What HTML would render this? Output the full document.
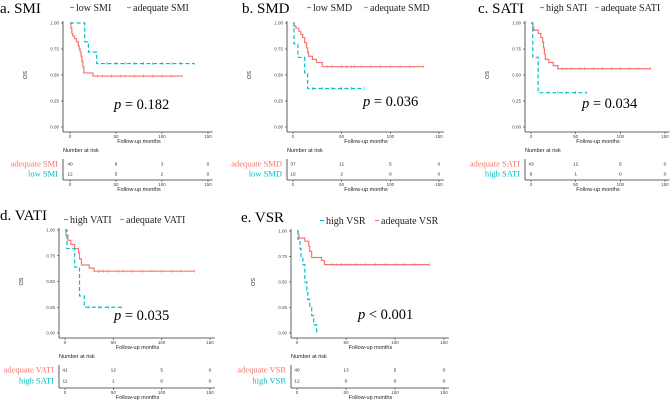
<!DOCTYPE html>
<html><head><meta charset="utf-8">
<style>
body{margin:0;background:#fff;}
svg{display:block;font-family:"Liberation Sans",sans-serif;}
.ser{font-family:"Liberation Serif",serif;}
</style></head>
<body>
<svg id="fig" width="672" height="400" viewBox="0 0 672 400"></svg>
<script>
// ---------- data ----------
const xTicks = [0, 50, 100, 150];
const yTicks = [0, 0.25, 0.5, 0.75, 1.0];
const yTickLabels = ["0.00", "0.25", "0.50", "0.75", "1.00"];

const titles = ["a. SMI", "b. SMD", "c. SATI", "d. VATI", "e. VSR"];
const cyanNames = ["low SMI", "low SMD", "high SATI", "high VATI", "high VSR"];
const redNames = ["adequate SMI", "adequate SMD", "adequate SATI", "adequate VATI", "adequate VSR"];
const riskCyanNames = ["low SMI", "low SMD", "high SATI", "high SATI", "high VSR"];
const pTexts = ["= 0.182", "= 0.036", "= 0.034", "= 0.035", "< 0.001"];

const redTimes = [
  [0, 1, 2, 3, 5, 7, 9, 10, 11, 12, 13, 14, 15, 25],
  [0, 1, 3, 6, 8, 10, 12, 14, 15, 16, 20, 24, 30],
  [0, 2, 3, 8, 11, 13, 14, 15, 16, 20, 25, 30],
  [0, 1, 3, 6, 10, 14, 15, 17, 25, 30],
  [0, 1, 2, 8, 12, 13, 15, 25, 28]
];
const redSurv = [
  [1, 0.95, 0.9, 0.875, 0.85, 0.82, 0.78, 0.75, 0.72, 0.68, 0.63, 0.58, 0.52, 0.49],
  [1, 0.97, 0.95, 0.92, 0.89, 0.86, 0.81, 0.76, 0.72, 0.68, 0.65, 0.62, 0.58],
  [1, 0.96, 0.93, 0.9, 0.86, 0.82, 0.76, 0.7, 0.65, 0.62, 0.59, 0.56],
  [1, 0.95, 0.9, 0.86, 0.82, 0.78, 0.72, 0.66, 0.63, 0.6],
  [1, 0.97, 0.93, 0.9, 0.85, 0.8, 0.74, 0.71, 0.67]
];
const redEnd = [122, 134, 134, 134, 135];
const cyanTimes = [
  [0, 16, 20, 29],
  [0, 1, 5, 12, 15],
  [0, 2, 8],
  [0, 2, 10, 15, 20],
  [0, 1, 3, 4, 6, 8, 10, 11, 13, 15, 17, 20]
];
const cyanSurv = [
  [1, 0.82, 0.72, 0.61],
  [1, 0.8, 0.67, 0.52, 0.37],
  [1, 0.67, 0.33],
  [1, 0.82, 0.64, 0.36, 0.25],
  [1, 0.92, 0.83, 0.75, 0.67, 0.5, 0.42, 0.33, 0.25, 0.17, 0.08, 0.0]
];
const cyanEnd = [135, 73, 62, 58, 20];
const redCensor = [
  [30, 35, 45, 55, 60, 70, 80, 90, 100, 110, 122],
  [35, 40, 50, 55, 60, 63, 70, 80, 90, 100, 110, 120, 134],
  [35, 40, 45, 55, 60, 70, 80, 90, 100, 110, 120, 134],
  [35, 40, 45, 55, 60, 70, 80, 90, 100, 110, 120, 134],
  [35, 40, 45, 50, 55, 60, 70, 80, 90, 100, 110, 120, 135]
];
const cyanCensor = [
  [40, 50, 60, 70, 80, 90, 100, 110, 120, 135],
  [20, 30, 40, 50, 60, 73],
  [20, 30, 40, 50, 62],
  [25, 35, 45, 58],
  []
];
const riskRed = [[40, 8, 3, 0], [37, 11, 5, 0], [43, 12, 5, 0], [41, 12, 5, 0], [40, 13, 5, 0]];
const riskCyan = [[12, 5, 2, 0], [15, 2, 0, 0], [9, 1, 0, 0], [11, 1, 0, 0], [12, 0, 0, 0]];

// ---------- layout (pixels) ----------
const layout = [
  {ax:63, x0:70, x150:208, y1:23, y0:127, ab:132, rr:[164,174], rb:180, tx:0, ty:13, lg:[70,127], ly:11, px:114, py:109},
  {ax:287, x0:293, x150:439, y1:23, y0:127, ab:132, rr:[164,174], rb:180, tx:242, ty:13, lg:[307,364], ly:11, px:363, py:106},
  {ax:525, x0:531, x150:665, y1:23, y0:127, ab:132, rr:[164,174], rb:180, tx:478, ty:13, lg:[540,595], ly:11, px:582, py:108},
  {ax:59, x0:65, x150:210, y1:230, y0:333, ab:338, rr:[370,381], rb:388, tx:0, ty:220, lg:[64,120], ly:223, px:114, py:320},
  {ax:291, x0:297, x150:444, y1:231, y0:333, ab:338, rr:[370,381], rb:388, tx:241, ty:222, lg:[320,375], ly:224, px:358, py:319}
];
const RED = "#f8766d", CYAN = "#00bfc4";
const NS = "http://www.w3.org/2000/svg";
const svg = document.getElementById("fig");
function mk(tag, attrs, parent, text) {
  const e = document.createElementNS(NS, tag);
  for (const k in attrs) e.setAttribute(k, attrs[k]);
  if (text !== undefined) e.textContent = text;
  (parent || svg).appendChild(e);
  return e;
}
function stepPath(ts, ss, end, X, Y) {
  let d = "M" + X(ts[0]) + "," + Y(ss[0]);
  for (let i = 1; i < ts.length; i++) {
    d += "H" + X(ts[i]) + "V" + Y(ss[i]);
  }
  d += "H" + X(end);
  return d;
}
function survAt(ts, ss, t) {
  let s = ss[0];
  for (let i = 0; i < ts.length; i++) if (ts[i] <= t) s = ss[i];
  return s;
}

for (let p = 0; p < 5; p++) {
  const L = layout[p];
  const g = mk("g", {}, svg);
  
  
  const X = t => L.x0 + t * (L.x150 - L.x0) / 150;
  const Y = s => L.y0 - s * (L.y0 - L.y1);

  const tt = mk("text", {x:L.tx, y:L.ty, "font-size":15, class:"ser", fill:"#000"}, g, titles[p]);
  
  

  // legend
  const lg = mk("g", {}, g);
  
  
  mk("line", {x1:L.lg[0], x2:L.lg[0]+4, y1:L.ly-3.5, y2:L.ly-3.5, stroke:CYAN, "stroke-width":1.2}, lg);
  mk("text", {x:L.lg[0]+6, y:L.ly, "font-size":10, class:"ser", fill:"#222"}, lg, cyanNames[p]);
  mk("line", {x1:L.lg[1], x2:L.lg[1]+4, y1:L.ly-3.5, y2:L.ly-3.5, stroke:RED, "stroke-width":1.2}, lg);
  mk("text", {x:L.lg[1]+6, y:L.ly, "font-size":10, class:"ser", fill:"#222"}, lg, redNames[p]);

  // axes
  const ax = mk("g", {}, g);
  
  
  mk("line", {x1:L.ax, x2:L.ax, y1:L.y1-2, y2:L.ab, stroke:"#333", "stroke-width":0.8}, ax);
  mk("line", {x1:L.ax, x2:X(155), y1:L.ab, y2:L.ab, stroke:"#333", "stroke-width":0.8}, ax);
  yTicks.forEach((v, i) => {
    mk("line", {x1:L.ax-2, x2:L.ax, y1:Y(v), y2:Y(v), stroke:"#333", "stroke-width":0.6}, ax);
    mk("text", {x:L.ax-4, y:Y(v)+1.5, "font-size":4.5, "text-anchor":"end", fill:"#444"}, ax, yTickLabels[i]);
  });
  xTicks.forEach(v => {
    mk("line", {x1:X(v), x2:X(v), y1:L.ab, y2:L.ab+2, stroke:"#333", "stroke-width":0.6}, ax);
    mk("text", {x:X(v), y:L.ab+6, "font-size":4.5, "text-anchor":"middle", fill:"#444"}, ax, String(v));
  });
  mk("text", {x:X(75), y:L.ab+11, "font-size":5.5, "text-anchor":"middle", fill:"#222"}, ax, "Follow-up months");
  const cy = (L.y0 + L.y1) / 2;
  mk("text", {x:L.ax-36, y:cy, "font-size":5.5, "text-anchor":"middle", fill:"#222", transform:`rotate(-90 ${L.ax-36} ${cy})`}, ax, "OS");

  // curves
  const rp = mk("path", {d:stepPath(redTimes[p], redSurv[p], redEnd[p], X, Y), fill:"none", stroke:RED, "stroke-width":1.2}, g);
  
  
  const cp = mk("path", {d:stepPath(cyanTimes[p], cyanSurv[p], cyanEnd[p], X, Y), fill:"none", stroke:CYAN, "stroke-width":1.2, "stroke-dasharray":"4,2.5"}, g);
  
  
  redCensor[p].forEach(t => {
    const y = Y(survAt(redTimes[p], redSurv[p], t));
    mk("line", {x1:X(t), x2:X(t), y1:y-1.5, y2:y+1.5, stroke:RED, "stroke-width":0.6}, g);
  });
  cyanCensor[p].forEach(t => {
    const y = Y(survAt(cyanTimes[p], cyanSurv[p], t));
    mk("line", {x1:X(t), x2:X(t), y1:y-1.5, y2:y+1.5, stroke:CYAN, "stroke-width":0.6}, g);
  });

  // p value
  const pt = mk("text", {x:L.px, y:L.py, "font-size":14.5, class:"ser", fill:"#000"}, g);
  
  
  mk("tspan", {"font-style":"italic"}, pt, "p");
  mk("tspan", {}, pt, " " + pTexts[p]);

  // risk table
  const rt = mk("g", {}, g);
  
  
  mk("text", {x:L.ax, y:L.rr[0]-12, "font-size":5.5, fill:"#222"}, rt, "Number at risk");
  mk("line", {x1:L.ax, x2:L.ax, y1:L.rr[0]-5, y2:L.rb, stroke:"#333", "stroke-width":0.8}, rt);
  mk("line", {x1:L.ax, x2:X(155), y1:L.rb, y2:L.rb, stroke:"#333", "stroke-width":0.8}, rt);
  mk("text", {x:L.ax-5, y:L.rr[0]+2.5, "font-size":8.5, class:"ser", "text-anchor":"end", fill:RED}, rt, redNames[p]);
  mk("text", {x:L.ax-5, y:L.rr[1]+2.5, "font-size":8.5, class:"ser", "text-anchor":"end", fill:CYAN}, rt, riskCyanNames[p]);
  xTicks.forEach((v, i) => {
    mk("text", {x:X(v), y:L.rr[0]+1.5, "font-size":4.8, "text-anchor":"middle", fill:"#333"}, rt, String(riskRed[p][i]));
    mk("text", {x:X(v), y:L.rr[1]+1.5, "font-size":4.8, "text-anchor":"middle", fill:"#333"}, rt, String(riskCyan[p][i]));
    mk("line", {x1:X(v), x2:X(v), y1:L.rb, y2:L.rb+2, stroke:"#333", "stroke-width":0.6}, rt);
    mk("text", {x:X(v), y:L.rb+6, "font-size":4.5, "text-anchor":"middle", fill:"#444"}, rt, String(v));
  });
  mk("text", {x:X(75), y:L.rb+11, "font-size":5.5, "text-anchor":"middle", fill:"#222"}, rt, "Follow-up months");
}
</script>
</body></html>
